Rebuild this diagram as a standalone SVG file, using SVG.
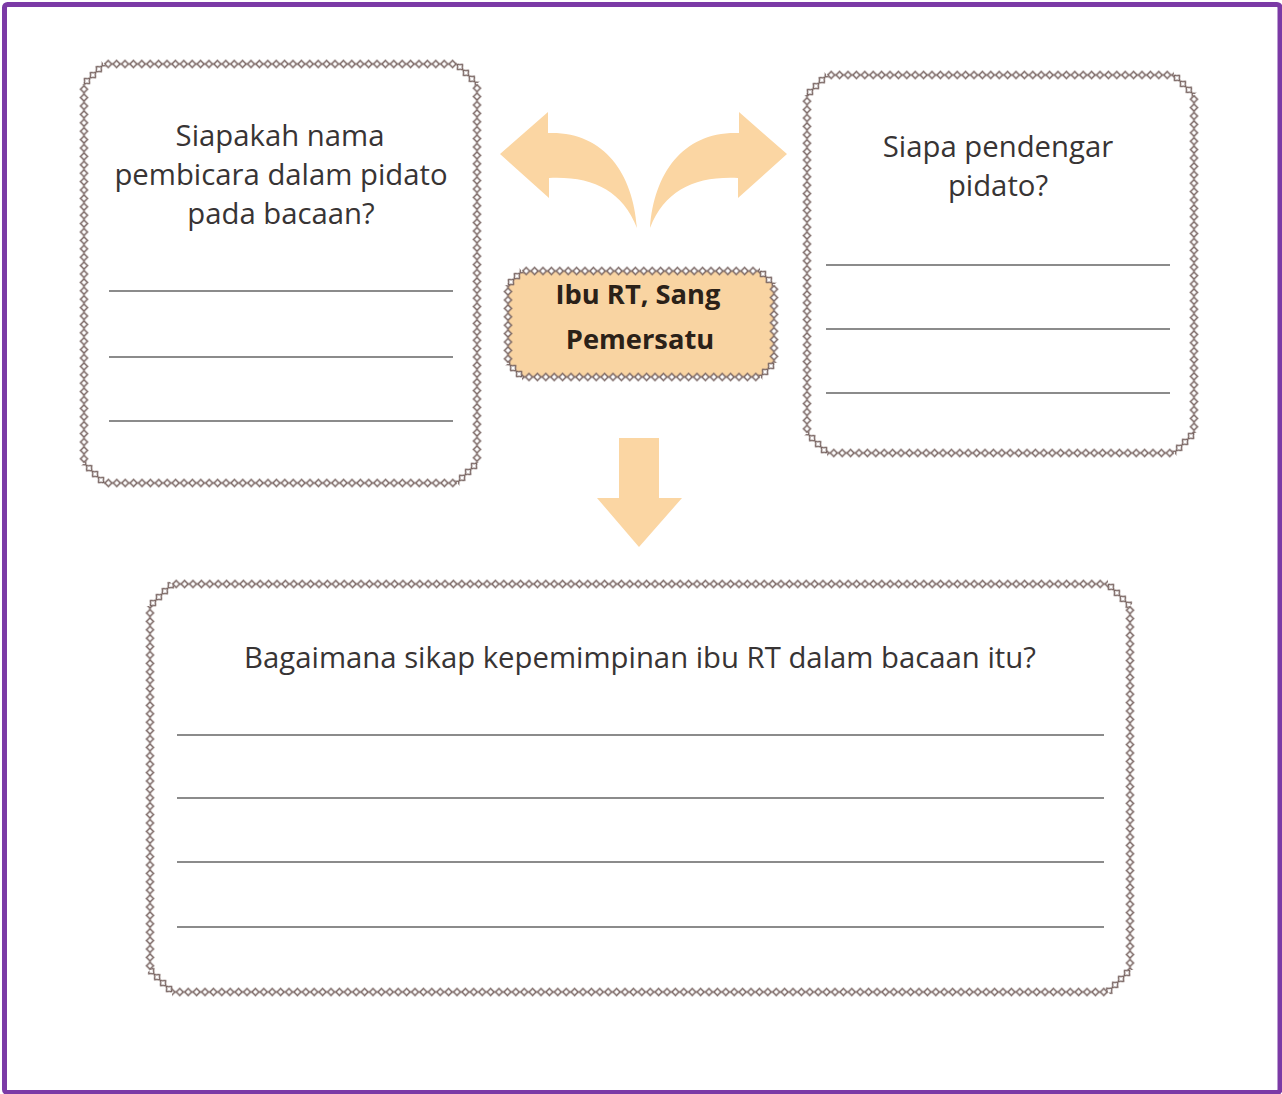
<svg xmlns="http://www.w3.org/2000/svg" width="1282" height="1094" viewBox="0 0 1282 1094">
<style>
.txt{font-family:"Open Sans","Liberation Sans",sans-serif;font-size:29.3px;fill:#383434;text-anchor:middle}
.ttl{font-family:"Open Sans","Liberation Sans",sans-serif;font-size:27.3px;font-weight:bold;fill:#2b2118;text-anchor:middle}
.ln{stroke:#656565;stroke-width:1.7}
.ch{fill:url(#chain)}
.arr{fill:#fbd6a3}
</style>
<defs>
<pattern id="chain" patternUnits="userSpaceOnUse" x="0" y="-4.5" width="8.4" height="9">
<line x1="0" y1="4.5" x2="8.4" y2="4.5" stroke="#76625f" stroke-width="1.5"/>
<polygon points="4.2,1.0 7.7,4.5 4.2,8.0 0.7,4.5" fill="#ffffff" stroke="#76625f" stroke-width="1.5"/>
</pattern>
</defs>
<rect x="0" y="0" width="1282" height="1094" fill="#ffffff"/>
<rect x="4.5" y="4.5" width="1275.5" height="1088" rx="3" fill="#ffffff" stroke="#7b3aa6" stroke-width="5"/>

<g id="connectors">
<path class="arr" d="M500,154 L548,112 L548,133 C603,131 633,172 637,228 C622,190 592,176 549,178 L549,198 Z"/>
<path class="arr" transform="translate(1287,0) scale(-1,1)" d="M500,154 L548,112 L548,133 C603,131 633,172 637,228 C622,190 592,176 549,178 L549,198 Z"/>
<path class="arr" d="M619,438 L659,438 L659,498 L682,498 L639,547 L597,498 L619,498 Z"/>
</g>

<g id="box-speaker">
<polygon points="104,64 457,64 477,84 477,463 457,483 104,483 84,463 84,84" fill="#ffffff"/>
<rect class="ch" x="0" y="-4.5" width="353" height="9" transform="translate(104,64)"/>
<rect class="ch" x="0" y="-4.5" width="28.3" height="9" transform="translate(457,64) rotate(45)"/>
<rect class="ch" x="0" y="-4.5" width="379" height="9" transform="translate(477,84) rotate(90)"/>
<rect class="ch" x="0" y="-4.5" width="28.3" height="9" transform="translate(477,463) rotate(135)"/>
<rect class="ch" x="0" y="-4.5" width="353" height="9" transform="translate(457,483) rotate(180)"/>
<rect class="ch" x="0" y="-4.5" width="28.3" height="9" transform="translate(104,483) rotate(225)"/>
<rect class="ch" x="0" y="-4.5" width="379" height="9" transform="translate(84,463) rotate(270)"/>
<rect class="ch" x="0" y="-4.5" width="28.3" height="9" transform="translate(84,84) rotate(315)"/>
<text class="txt" x="280" y="146">Siapakah nama</text>
<text class="txt" x="281" y="185">pembicara dalam pidato</text>
<text class="txt" x="281" y="224">pada bacaan?</text>
<line class="ln" x1="109" y1="291" x2="453" y2="291"/>
<line class="ln" x1="109" y1="357" x2="453" y2="357"/>
<line class="ln" x1="109" y1="421" x2="453" y2="421"/>
</g>

<g id="box-listener">
<polygon points="827,75 1174,75 1194,95 1194,433 1174,453 827,453 807,433 807,95" fill="#ffffff"/>
<rect class="ch" x="0" y="-4.5" width="347" height="9" transform="translate(827,75)"/>
<rect class="ch" x="0" y="-4.5" width="28.3" height="9" transform="translate(1174,75) rotate(45)"/>
<rect class="ch" x="0" y="-4.5" width="338" height="9" transform="translate(1194,95) rotate(90)"/>
<rect class="ch" x="0" y="-4.5" width="28.3" height="9" transform="translate(1194,433) rotate(135)"/>
<rect class="ch" x="0" y="-4.5" width="347" height="9" transform="translate(1174,453) rotate(180)"/>
<rect class="ch" x="0" y="-4.5" width="28.3" height="9" transform="translate(827,453) rotate(225)"/>
<rect class="ch" x="0" y="-4.5" width="338" height="9" transform="translate(807,433) rotate(270)"/>
<rect class="ch" x="0" y="-4.5" width="28.3" height="9" transform="translate(807,95) rotate(315)"/>
<text class="txt" x="998" y="157">Siapa pendengar</text>
<text class="txt" x="998" y="196">pidato?</text>
<line class="ln" x1="826" y1="265" x2="1170" y2="265"/>
<line class="ln" x1="826" y1="329" x2="1170" y2="329"/>
<line class="ln" x1="826" y1="393" x2="1170" y2="393"/>
</g>

<g id="box-title">
<polygon points="522,271 760,271 774,285 774,363 760,377 522,377 508,363 508,285" fill="#f9d4a2"/>
<rect class="ch" x="0" y="-4.5" width="238" height="9" transform="translate(522,271)"/>
<rect class="ch" x="0" y="-4.5" width="19.8" height="9" transform="translate(760,271) rotate(45)"/>
<rect class="ch" x="0" y="-4.5" width="78" height="9" transform="translate(774,285) rotate(90)"/>
<rect class="ch" x="0" y="-4.5" width="19.8" height="9" transform="translate(774,363) rotate(135)"/>
<rect class="ch" x="0" y="-4.5" width="238" height="9" transform="translate(760,377) rotate(180)"/>
<rect class="ch" x="0" y="-4.5" width="19.8" height="9" transform="translate(522,377) rotate(225)"/>
<rect class="ch" x="0" y="-4.5" width="78" height="9" transform="translate(508,363) rotate(270)"/>
<rect class="ch" x="0" y="-4.5" width="19.8" height="9" transform="translate(508,285) rotate(315)"/>
<text class="ttl" x="638" y="304">Ibu RT, Sang</text>
<text class="ttl" x="640" y="349">Pemersatu</text>
</g>

<g id="box-leadership">
<polygon points="172,584 1108,584 1130,606 1130,970 1108,992 172,992 150,970 150,606" fill="#ffffff"/>
<rect class="ch" x="0" y="-4.5" width="936" height="9" transform="translate(172,584)"/>
<rect class="ch" x="0" y="-4.5" width="31.1" height="9" transform="translate(1108,584) rotate(45)"/>
<rect class="ch" x="0" y="-4.5" width="364" height="9" transform="translate(1130,606) rotate(90)"/>
<rect class="ch" x="0" y="-4.5" width="31.1" height="9" transform="translate(1130,970) rotate(135)"/>
<rect class="ch" x="0" y="-4.5" width="936" height="9" transform="translate(1108,992) rotate(180)"/>
<rect class="ch" x="0" y="-4.5" width="31.1" height="9" transform="translate(172,992) rotate(225)"/>
<rect class="ch" x="0" y="-4.5" width="364" height="9" transform="translate(150,970) rotate(270)"/>
<rect class="ch" x="0" y="-4.5" width="31.1" height="9" transform="translate(150,606) rotate(315)"/>
<text class="txt" x="640" y="668">Bagaimana sikap kepemimpinan ibu RT dalam bacaan itu?</text>
<line class="ln" x1="177" y1="735" x2="1104" y2="735"/>
<line class="ln" x1="177" y1="798" x2="1104" y2="798"/>
<line class="ln" x1="177" y1="862" x2="1104" y2="862"/>
<line class="ln" x1="177" y1="927" x2="1104" y2="927"/>
</g>
</svg>
